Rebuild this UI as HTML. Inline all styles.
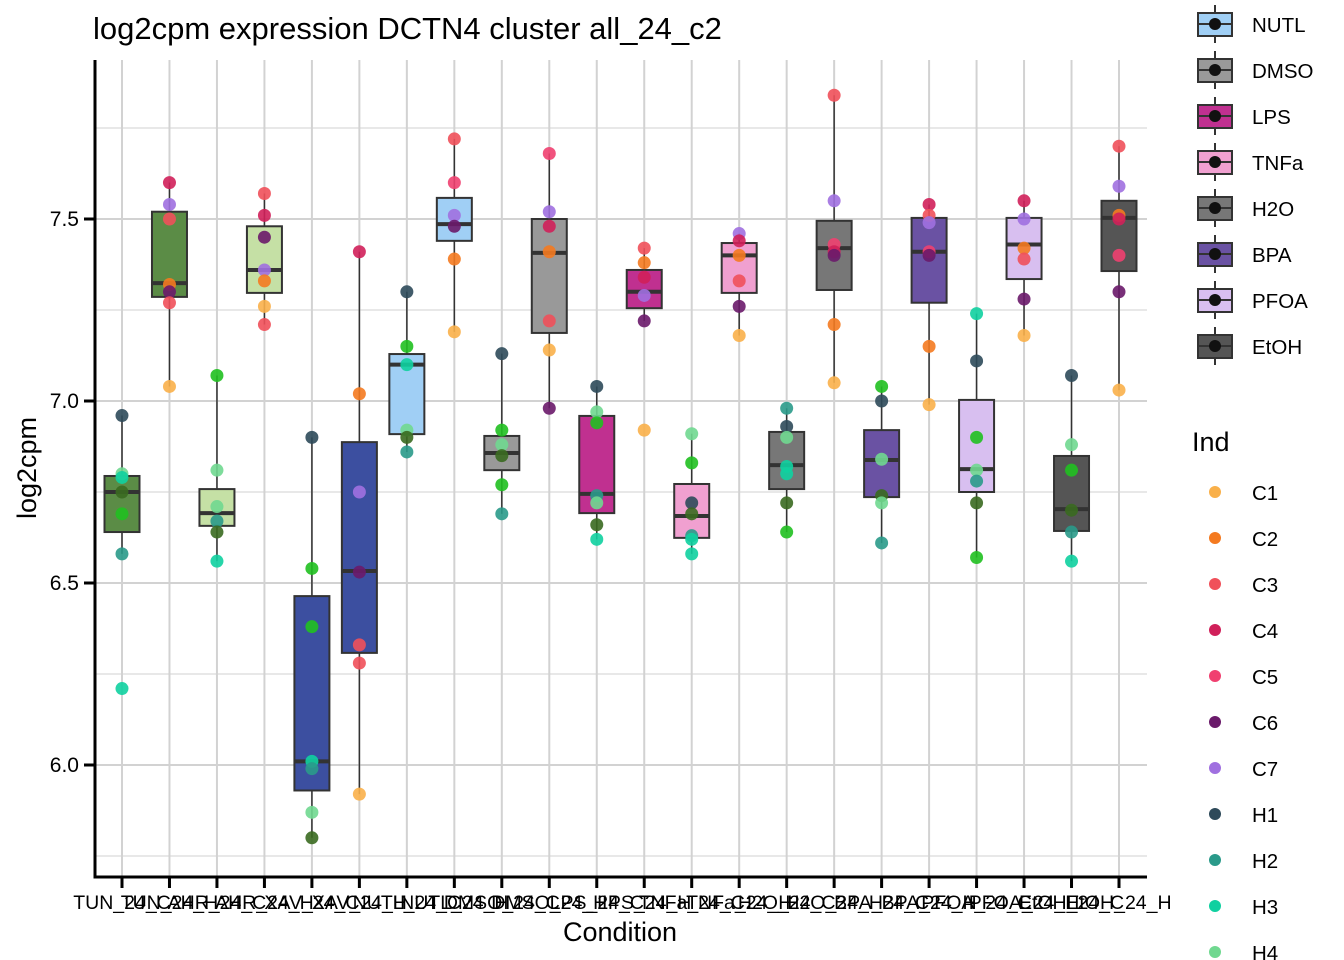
<!DOCTYPE html>
<html><head><meta charset="utf-8"><style>
html,body{margin:0;background:#fff;overflow:hidden;width:1344px;height:960px;}
svg{display:block;}
svg text{font-family:"Liberation Sans",Arial,sans-serif;}
</style></head><body>
<svg id="chart" width="1344" height="960" xmlns="http://www.w3.org/2000/svg">
<rect width="1344" height="960" fill="#fff"/>
<text x="93" y="39" font-size="31" fill="#000">log2cpm expression DCTN4 cluster all_24_c2</text>
<g id="grid"></g><g id="boxes"></g><g id="points"></g><g id="axes"></g><g id="legend"></g>
</svg>
<script>
const categories=["TUN_24_C","TUN_24_H","AHR_24_C","AHR_24_H","XAV_24_C","XAV_24_H","NUTL_24_C","NUTL_24_H","DMSO_24_C","DMSO_24_H","LPS_24_C","LPS_24_H","TNFa_24_C","TNFa_24_H","H2O_24_C","H2O_24_H","BPA_24_C","BPA_24_H","PFOA_24_C","PFOA_24_H","EtOH_24_C","EtOH_24_H"];
const boxFill=["#5b8c46","#5b8c46","#c5e0a5","#c5e0a5","#3c4fa0","#3c4fa0","#a0cff5","#a0cff5","#999999","#999999","#c03090","#c03090","#f0a0d0","#f0a0d0","#777777","#777777","#6a52a3","#6a52a3","#d8bff0","#d8bff0","#555555","#555555"];
const whiskerLow=[6.58,7.04,6.56,7.21,5.80,5.92,6.86,7.19,6.69,6.98,6.62,7.22,6.58,7.18,6.64,7.05,6.61,6.99,6.57,7.18,6.56,7.03];
const q1=[6.64,7.286,6.657,7.297,5.93,6.308,6.909,7.44,6.81,7.187,6.692,7.255,6.624,7.297,6.758,7.305,6.736,7.27,6.75,7.335,6.643,7.357];
const median=[6.75,7.324,6.692,7.36,6.01,6.533,7.10,7.486,6.857,7.407,6.745,7.30,6.684,7.40,6.824,7.42,6.838,7.41,6.813,7.43,6.703,7.503];
const q3=[6.794,7.52,6.758,7.48,6.464,6.887,7.129,7.558,6.904,7.50,6.959,7.36,6.772,7.434,6.915,7.495,6.92,7.503,7.003,7.503,6.849,7.55];
const whiskerHigh=[6.96,7.60,7.07,7.57,6.90,7.41,7.30,7.72,7.13,7.68,7.04,7.42,6.91,7.46,6.98,7.84,7.04,7.54,7.24,7.55,7.07,7.70];
const pointValues=[
[6.96,6.80,6.79,6.69,6.75,6.58,6.21],
[7.60,7.54,7.50,7.32,7.30,7.27,7.04],
[7.07,6.81,6.71,6.67,6.64,6.56],
[7.57,7.51,7.45,7.36,7.33,7.26,7.21],
[6.90,6.54,6.38,6.01,5.99,5.87,5.80],
[7.41,7.02,6.75,6.53,6.33,6.28,5.92],
[7.30,7.15,7.10,6.92,6.90,6.86],
[7.72,7.60,7.51,7.48,7.39,7.19],
[7.13,6.92,6.88,6.85,6.77,6.69],
[7.68,7.52,7.48,7.41,7.22,7.14,6.98],
[7.04,6.97,6.94,6.74,6.72,6.66,6.62],
[7.42,7.38,7.34,7.29,7.22,6.92],
[6.91,6.83,6.72,6.69,6.63,6.62,6.58],
[7.46,7.44,7.40,7.33,7.26,7.18],
[6.98,6.93,6.90,6.82,6.80,6.72,6.64],
[7.84,7.55,7.43,7.41,7.40,7.21,7.05],
[7.04,7.00,6.84,6.74,6.72,6.61],
[7.54,7.51,7.49,7.41,7.40,7.15,6.99],
[7.24,7.11,6.90,6.81,6.78,6.72,6.57],
[7.55,7.50,7.42,7.39,7.28,7.18],
[7.07,6.88,6.81,6.70,6.64,6.56],
[7.70,7.59,7.51,7.50,7.40,7.30,7.03]];
const pointInd=[
["H1","H4","H3","H6","H5","H2","H3"],
["C4","C7","C3","C2","C6","C3","C1"],
["H6","H4","H4","H2","H5","H3"],
["C3","C4","C6","C7","C2","C1","C3"],
["H1","H6","H6","H3","H2","H4","H5"],
["C4","C2","C7","C6","C3","C3","C1"],
["H1","H6","H3","H4","H5","H2"],
["C3","C5","C7","C6","C2","C1"],
["H1","H6","H4","H5","H6","H2"],
["C5","C7","C4","C2","C3","C1","C6"],
["H1","H4","H6","H2","H4","H5","H3"],
["C3","C2","C4","C7","C6","C1"],
["H4","H6","H1","H5","H2","H3","H3"],
["C7","C4","C2","C3","C6","C1"],
["H2","H1","H4","H3","H3","H5","H6"],
["C3","C7","C5","C4","C6","C2","C1"],
["H6","H1","H4","H5","H4","H2"],
["C4","C3","C7","C5","C6","C2","C1"],
["H3","H1","H6","H4","H2","H5","H6"],
["C4","C7","C2","C3","C6","C1"],
["H1","H4","H6","H5","H2","H3"],
["C3","C7","C2","C4","C5","C6","C1"]];
const indNames=["C1","C2","C3","C4","C5","C6","C7","H1","H2","H3","H4","H5","H6"];
const indColors=["#f9b04a","#f47a20","#f0505a","#d0205a","#f04070","#6a1a6a","#a070e0","#2e4a5a","#2a9a8a","#10d0a0","#70d890","#3a6a20","#20c020"];
const yTicks=[6.0,6.5,7.0,7.5];
const yMinor=[5.75,6.25,6.75,7.25,7.75];
const treatments=["NUTL","DMSO","LPS","TNFa","H2O","BPA","PFOA","EtOH"];
const treatColors=["#a0cff5","#999999","#c03090","#f0a0d0","#777777","#6a52a3","#d8bff0","#555555"];

const NS="http://www.w3.org/2000/svg";
const L=95,R=1147,T=60,B=877;
const yScale=v=>765-(v-6)*364;
const xScale=i=>122+i*(1119-122)/(categories.length-1);
function mk(parent,tag,attrs){const e=document.createElementNS(NS,tag);for(const k in attrs)e.setAttribute(k,attrs[k]);document.getElementById(parent).appendChild(e);return e;}
yMinor.forEach(v=>{const y=yScale(v);if(y>T&&y<B){const e=mk('grid','line',{x1:L,x2:R,y1:y,y2:y,stroke:'#e0e0e0','stroke-width':1.5});

}});
yTicks.forEach(v=>{const y=yScale(v);const e=mk('grid','line',{x1:L,x2:R,y1:y,y2:y,stroke:'#d2d2d2','stroke-width':2});

});
categories.forEach((c,i)=>{const x=xScale(i);const e=mk('grid','line',{x1:x,x2:x,y1:T,y2:B,stroke:'#d2d2d2','stroke-width':2});

});
categories.forEach((c,i)=>{const x=xScale(i),w=35;
const wl=mk('boxes','line',{x1:x,x2:x,y1:yScale(whiskerHigh[i]),y2:yScale(whiskerLow[i]),stroke:'#333','stroke-width':1.5});


const r=mk('boxes','rect',{x:x-w/2,y:yScale(q3[i]),width:w,height:yScale(q1[i])-yScale(q3[i]),fill:boxFill[i],stroke:'#333','stroke-width':2});


const m=mk('boxes','line',{x1:x-w/2,x2:x+w/2,y1:yScale(median[i]),y2:yScale(median[i]),stroke:'#333','stroke-width':4});


});
pointValues.forEach((arr,i)=>arr.forEach((v,j)=>{const ci=indNames.indexOf(pointInd[i][j]);
const p=mk('points','circle',{cx:xScale(i),cy:yScale(v),r:6.5,fill:indColors[ci],'fill-opacity':0.9});

}));
let a=mk('axes','line',{x1:L,x2:L,y1:T,y2:B+1.5,stroke:'#000','stroke-width':3});


a=mk('axes','line',{x1:L-1.5,x2:R,y1:B,y2:B,stroke:'#000','stroke-width':3});


yTicks.forEach(v=>{const y=yScale(v);const t=mk('axes','line',{x1:L-11,x2:L,y1:y,y2:y,stroke:'#000','stroke-width':3});


const tx=mk('axes','text',{x:L-16,y:y+7,'text-anchor':'end','font-size':21,fill:'#000'});tx.textContent=v.toFixed(1);

});
categories.forEach((c,i)=>{const x=xScale(i);const t=mk('axes','line',{x1:x,x2:x,y1:B,y2:B+11,stroke:'#000','stroke-width':3});


const tx=mk('axes','text',{x:x,y:909,'text-anchor':'middle','font-size':19.5,fill:'#000'});tx.textContent=c;

});
let t=mk('axes','text',{x:620,y:941,'text-anchor':'middle','font-size':27,fill:'#000'});t.textContent='Condition';


t=mk('axes','text',{x:36,y:468,'text-anchor':'middle','font-size':27,fill:'#000',transform:'rotate(-90 36 468)'});t.textContent='log2cpm';


treatments.forEach((n,i)=>{const cy=24+i*46;
const l=mk('legend','line',{x1:1215,x2:1215,y1:cy-19,y2:cy+19,stroke:'#333','stroke-width':2});


const r=mk('legend','rect',{x:1198,y:cy-11,width:34,height:23,fill:treatColors[i],stroke:'#333','stroke-width':2});


const m=mk('legend','line',{x1:1198,x2:1232,y1:cy,y2:cy,stroke:'#333','stroke-width':2});


const d=mk('legend','circle',{cx:1215,cy:cy,r:6,fill:'#111'});


const tx=mk('legend','text',{x:1252,y:cy+8,'font-size':20.5,fill:'#000'});tx.textContent=n;

});
t=mk('legend','text',{x:1192,y:451,'font-size':27,fill:'#000'});t.textContent='Ind';


indNames.forEach((n,i)=>{const cy=492+i*46;
const c=mk('legend','circle',{cx:1215,cy:cy,r:6,fill:indColors[i]});


const tx=mk('legend','text',{x:1252,y:cy+8,'font-size':20.5,fill:'#000'});tx.textContent=n;

});
</script>
</body></html>
